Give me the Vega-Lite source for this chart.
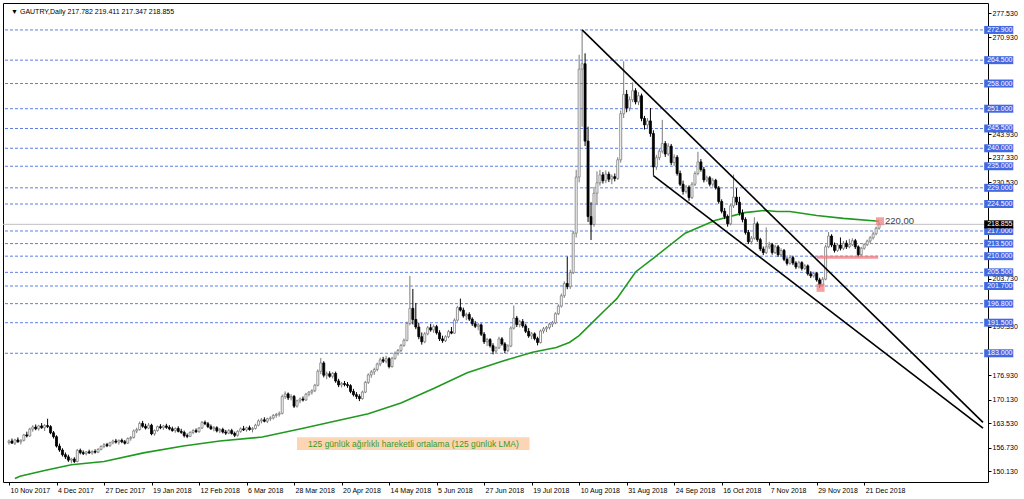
{
"$schema": "https://vega.github.io/schema/vega-lite/v6.json",
"width": 985, "height": 479,
"autosize": {"type": "none"},
"padding": {"left": 3, "top": 3, "right": 36, "bottom": 17},
"background": "#ffffff",
"config": {"view": {"stroke": "#000000", "strokeWidth": 1}, "font": "Liberation Sans"},
"datasets": {
"levels": [{"p":272.9},{"p":264.5},{"p":258.0},{"p":251.0},{"p":245.5},{"p":240.0},{"p":235.0},{"p":229.0},{"p":224.5},{"p":217.0},{"p":213.5},{"p":210.0},{"p":205.5},{"p":201.7},{"p":196.8},{"p":191.5},{"p":183.0}],
"current": [{"p":218.855}],
"trend": [{"id":"u","i":193,"p":272.9},{"id":"u","i":328,"p":163.8},{"id":"l","i":217,"p":232.4},{"id":"l","i":328,"p":162.2}],
"lma": [{"i":2,"v":148.2},{"i":3.7,"v":148.8},{"i":12,"v":150.4},{"i":21,"v":152.0},{"i":32,"v":152.9},{"i":45.3,"v":155.3},{"i":58.7,"v":157.2},{"i":71,"v":158.6},{"i":85.3,"v":159.7},{"i":98.7,"v":162.1},{"i":121,"v":166.2},{"i":132,"v":169.2},{"i":143,"v":173.2},{"i":154.3,"v":177.6},{"i":165.3,"v":180.6},{"i":176.3,"v":183.3},{"i":184.3,"v":184.6},{"i":188.7,"v":186.0},{"i":192,"v":187.9},{"i":197,"v":192.0},{"i":200.3,"v":194.7},{"i":204.7,"v":198.2},{"i":211,"v":205.6},{"i":217.7,"v":209.9},{"i":227.7,"v":216.4},{"i":237.7,"v":219.9},{"i":247.7,"v":222.1},{"i":254.3,"v":222.7},{"i":258.7,"v":222.4},{"i":263,"v":222.4},{"i":272,"v":221.3},{"i":281,"v":220.5},{"i":293,"v":219.7}],
"pinkline": [{"i":272,"p":209.7},{"i":292.7,"p":209.7}],
"pinkbox": [{"i":273.3,"p":201.2},{"i":293.3,"p":219.7}],
"note": [{"i1":97,"i2":175.3,"p1":156.1,"p2":159.65,"t":"125 günlük ağırlıklı hareketli ortalama (125 günlük LMA)"}],
"candles": [
{"i":0,"o":158.2,"h":159.0,"l":157.6,"c":158.6},
{"i":1,"o":158.6,"h":159.3,"l":157.9,"c":158.0},
{"i":2,"o":158.0,"h":159.2,"l":157.5,"c":158.9},
{"i":3,"o":158.9,"h":159.6,"l":158.1,"c":158.4},
{"i":4,"o":158.4,"h":159.1,"l":157.7,"c":158.8},
{"i":5,"o":158.8,"h":160.6,"l":158.5,"c":160.3},
{"i":6,"o":160.3,"h":161.2,"l":159.6,"c":160.0},
{"i":7,"o":160.0,"h":162.3,"l":159.8,"c":161.9},
{"i":8,"o":161.9,"h":163.0,"l":161.2,"c":162.5},
{"i":9,"o":162.5,"h":163.2,"l":161.6,"c":162.0},
{"i":10,"o":162.0,"h":163.1,"l":161.5,"c":162.8},
{"i":11,"o":162.8,"h":163.6,"l":162.0,"c":162.3},
{"i":12,"o":162.3,"h":163.3,"l":161.4,"c":162.9},
{"i":13,"o":162.9,"h":164.8,"l":162.2,"c":162.6},
{"i":14,"o":162.6,"h":163.0,"l":160.5,"c":160.9},
{"i":15,"o":160.9,"h":161.4,"l":159.3,"c":159.8},
{"i":16,"o":159.8,"h":160.2,"l":156.8,"c":157.2},
{"i":17,"o":157.2,"h":157.9,"l":155.6,"c":156.1},
{"i":18,"o":156.1,"h":156.6,"l":154.3,"c":154.8},
{"i":19,"o":154.8,"h":155.4,"l":153.6,"c":154.2},
{"i":20,"o":154.2,"h":154.8,"l":152.8,"c":153.3},
{"i":21,"o":153.3,"h":153.9,"l":152.4,"c":153.6},
{"i":22,"o":153.6,"h":154.1,"l":152.5,"c":152.9},
{"i":23,"o":152.9,"h":156.4,"l":152.7,"c":156.0},
{"i":24,"o":156.0,"h":156.5,"l":154.9,"c":155.4},
{"i":25,"o":155.4,"h":156.0,"l":154.7,"c":155.1},
{"i":26,"o":155.1,"h":155.8,"l":154.6,"c":155.6},
{"i":27,"o":155.6,"h":156.2,"l":155.0,"c":155.3},
{"i":28,"o":155.3,"h":156.0,"l":154.8,"c":155.7},
{"i":29,"o":155.7,"h":156.3,"l":155.1,"c":155.5},
{"i":30,"o":155.5,"h":156.6,"l":155.2,"c":156.3},
{"i":31,"o":156.3,"h":157.4,"l":156.0,"c":157.1},
{"i":32,"o":157.1,"h":158.0,"l":156.6,"c":157.6},
{"i":33,"o":157.6,"h":158.1,"l":156.9,"c":157.3},
{"i":34,"o":157.3,"h":158.4,"l":157.0,"c":158.1},
{"i":35,"o":158.1,"h":159.0,"l":157.7,"c":158.6},
{"i":36,"o":158.6,"h":159.2,"l":157.9,"c":158.3},
{"i":37,"o":158.3,"h":159.0,"l":157.6,"c":158.8},
{"i":38,"o":158.8,"h":159.3,"l":158.0,"c":158.4},
{"i":39,"o":158.4,"h":158.9,"l":157.6,"c":158.0},
{"i":40,"o":158.0,"h":159.6,"l":157.8,"c":159.3},
{"i":41,"o":159.3,"h":160.0,"l":158.7,"c":159.6},
{"i":42,"o":159.6,"h":161.8,"l":159.3,"c":161.4},
{"i":43,"o":161.4,"h":162.3,"l":160.8,"c":161.8},
{"i":44,"o":161.8,"h":164.0,"l":161.5,"c":163.5},
{"i":45,"o":163.5,"h":164.2,"l":162.3,"c":162.7},
{"i":46,"o":162.7,"h":163.4,"l":161.8,"c":162.2},
{"i":47,"o":162.2,"h":163.6,"l":161.9,"c":163.0},
{"i":48,"o":163.0,"h":163.4,"l":160.2,"c":160.6},
{"i":49,"o":160.6,"h":161.8,"l":160.1,"c":161.5},
{"i":50,"o":161.5,"h":162.9,"l":161.2,"c":162.6},
{"i":51,"o":162.6,"h":163.3,"l":161.9,"c":162.3},
{"i":52,"o":162.3,"h":163.1,"l":161.7,"c":162.8},
{"i":53,"o":162.8,"h":163.4,"l":162.0,"c":162.4},
{"i":54,"o":162.4,"h":163.0,"l":161.6,"c":162.0},
{"i":55,"o":162.0,"h":162.6,"l":161.2,"c":161.5},
{"i":56,"o":161.5,"h":162.4,"l":160.9,"c":162.1},
{"i":57,"o":162.1,"h":162.7,"l":161.0,"c":161.3},
{"i":58,"o":161.3,"h":162.0,"l":160.6,"c":161.0},
{"i":59,"o":161.0,"h":161.5,"l":159.6,"c":160.1},
{"i":60,"o":160.1,"h":160.7,"l":159.4,"c":159.9},
{"i":61,"o":159.9,"h":161.3,"l":159.7,"c":161.0},
{"i":62,"o":161.0,"h":161.9,"l":160.5,"c":161.5},
{"i":63,"o":161.5,"h":162.1,"l":160.8,"c":161.2},
{"i":64,"o":161.2,"h":162.5,"l":160.9,"c":162.2},
{"i":65,"o":162.2,"h":164.2,"l":162.0,"c":163.8},
{"i":66,"o":163.8,"h":164.3,"l":163.0,"c":163.4},
{"i":67,"o":163.4,"h":163.9,"l":162.2,"c":162.6},
{"i":68,"o":162.6,"h":163.2,"l":161.7,"c":162.0},
{"i":69,"o":162.0,"h":162.8,"l":161.3,"c":162.3},
{"i":70,"o":162.3,"h":162.7,"l":161.0,"c":161.4},
{"i":71,"o":161.4,"h":162.2,"l":160.8,"c":161.8},
{"i":72,"o":161.8,"h":162.3,"l":160.7,"c":161.1},
{"i":73,"o":161.1,"h":161.7,"l":160.3,"c":160.8},
{"i":74,"o":160.8,"h":161.9,"l":160.5,"c":161.5},
{"i":75,"o":161.5,"h":162.0,"l":160.4,"c":160.7},
{"i":76,"o":160.7,"h":161.2,"l":159.7,"c":160.2},
{"i":77,"o":160.2,"h":161.6,"l":159.8,"c":161.3},
{"i":78,"o":161.3,"h":162.4,"l":160.9,"c":162.0},
{"i":79,"o":162.0,"h":162.8,"l":161.4,"c":161.7},
{"i":80,"o":161.7,"h":162.6,"l":161.2,"c":162.3},
{"i":81,"o":162.3,"h":162.9,"l":161.5,"c":161.8},
{"i":82,"o":161.8,"h":162.5,"l":161.0,"c":162.1},
{"i":83,"o":162.1,"h":163.4,"l":161.8,"c":163.0},
{"i":84,"o":163.0,"h":164.6,"l":162.7,"c":164.2},
{"i":85,"o":164.2,"h":165.0,"l":163.5,"c":164.5},
{"i":86,"o":164.5,"h":165.2,"l":163.8,"c":164.1},
{"i":87,"o":164.1,"h":165.1,"l":163.6,"c":164.8},
{"i":88,"o":164.8,"h":165.5,"l":164.2,"c":165.0},
{"i":89,"o":165.0,"h":166.1,"l":164.6,"c":165.7},
{"i":90,"o":165.7,"h":166.4,"l":165.1,"c":166.0},
{"i":91,"o":166.0,"h":166.8,"l":165.4,"c":166.3},
{"i":92,"o":166.3,"h":171.5,"l":166.0,"c":171.0},
{"i":93,"o":171.0,"h":172.4,"l":170.3,"c":171.7},
{"i":94,"o":171.7,"h":172.1,"l":170.0,"c":170.6},
{"i":95,"o":170.6,"h":171.6,"l":169.9,"c":171.0},
{"i":96,"o":171.0,"h":171.4,"l":167.8,"c":168.3},
{"i":97,"o":168.3,"h":170.1,"l":167.9,"c":169.8},
{"i":98,"o":169.8,"h":170.7,"l":169.1,"c":170.3},
{"i":99,"o":170.3,"h":171.0,"l":169.6,"c":170.0},
{"i":100,"o":170.0,"h":172.0,"l":169.8,"c":171.6},
{"i":101,"o":171.6,"h":172.5,"l":171.0,"c":172.2},
{"i":102,"o":172.2,"h":173.0,"l":171.5,"c":172.6},
{"i":103,"o":172.6,"h":174.5,"l":172.2,"c":174.1},
{"i":104,"o":174.1,"h":178.5,"l":173.8,"c":178.0},
{"i":105,"o":178.0,"h":181.7,"l":177.2,"c":180.3},
{"i":106,"o":180.3,"h":180.8,"l":176.3,"c":176.9},
{"i":107,"o":176.9,"h":177.9,"l":175.8,"c":177.3},
{"i":108,"o":177.3,"h":178.0,"l":176.2,"c":176.6},
{"i":109,"o":176.6,"h":177.8,"l":176.0,"c":177.4},
{"i":110,"o":177.4,"h":177.9,"l":174.8,"c":175.3},
{"i":111,"o":175.3,"h":175.9,"l":173.6,"c":174.2},
{"i":112,"o":174.2,"h":175.0,"l":173.5,"c":174.6},
{"i":113,"o":174.6,"h":175.3,"l":173.8,"c":174.3},
{"i":114,"o":174.3,"h":175.0,"l":173.4,"c":174.0},
{"i":115,"o":174.0,"h":174.4,"l":171.9,"c":172.4},
{"i":116,"o":172.4,"h":173.1,"l":171.0,"c":171.5},
{"i":117,"o":171.5,"h":172.2,"l":170.3,"c":171.0},
{"i":118,"o":171.0,"h":171.6,"l":169.7,"c":170.4},
{"i":119,"o":170.4,"h":172.6,"l":170.1,"c":172.2},
{"i":120,"o":172.2,"h":175.3,"l":171.9,"c":174.9},
{"i":121,"o":174.9,"h":177.4,"l":174.5,"c":177.0},
{"i":122,"o":177.0,"h":178.3,"l":176.2,"c":177.8},
{"i":123,"o":177.8,"h":179.0,"l":177.0,"c":178.5},
{"i":124,"o":178.5,"h":180.4,"l":178.0,"c":180.0},
{"i":125,"o":180.0,"h":181.8,"l":179.4,"c":181.2},
{"i":126,"o":181.2,"h":182.0,"l":180.3,"c":180.8},
{"i":127,"o":180.8,"h":182.3,"l":180.2,"c":181.5},
{"i":128,"o":181.5,"h":181.9,"l":178.8,"c":179.3},
{"i":129,"o":179.3,"h":182.0,"l":179.0,"c":181.6},
{"i":130,"o":181.6,"h":183.5,"l":181.2,"c":183.0},
{"i":131,"o":183.0,"h":184.2,"l":182.4,"c":183.8},
{"i":132,"o":183.8,"h":185.6,"l":183.3,"c":185.2},
{"i":133,"o":185.2,"h":187.1,"l":184.8,"c":186.6},
{"i":134,"o":186.6,"h":191.8,"l":186.3,"c":191.3},
{"i":135,"o":191.3,"h":204.5,"l":190.8,"c":195.5},
{"i":136,"o":195.5,"h":200.9,"l":191.0,"c":192.4},
{"i":137,"o":192.4,"h":197.0,"l":189.7,"c":190.3},
{"i":138,"o":190.3,"h":191.5,"l":186.9,"c":187.6},
{"i":139,"o":187.6,"h":188.8,"l":185.4,"c":186.2},
{"i":140,"o":186.2,"h":188.9,"l":185.8,"c":188.4},
{"i":141,"o":188.4,"h":190.6,"l":188.0,"c":190.1},
{"i":142,"o":190.1,"h":191.2,"l":189.0,"c":189.5},
{"i":143,"o":189.5,"h":191.0,"l":188.7,"c":190.4},
{"i":144,"o":190.4,"h":190.9,"l":188.2,"c":188.7},
{"i":145,"o":188.7,"h":189.4,"l":186.4,"c":187.0},
{"i":146,"o":187.0,"h":187.9,"l":185.9,"c":186.5},
{"i":147,"o":186.5,"h":188.0,"l":186.1,"c":187.6},
{"i":148,"o":187.6,"h":189.5,"l":187.2,"c":189.0},
{"i":149,"o":189.0,"h":190.3,"l":188.3,"c":188.6},
{"i":150,"o":188.6,"h":192.7,"l":188.4,"c":192.2},
{"i":151,"o":192.2,"h":196.2,"l":191.8,"c":195.7},
{"i":152,"o":195.7,"h":198.2,"l":194.6,"c":195.0},
{"i":153,"o":195.0,"h":195.7,"l":192.9,"c":193.4},
{"i":154,"o":193.4,"h":194.3,"l":192.2,"c":193.8},
{"i":155,"o":193.8,"h":194.4,"l":192.0,"c":192.5},
{"i":156,"o":192.5,"h":193.0,"l":190.6,"c":191.2},
{"i":157,"o":191.2,"h":192.0,"l":190.0,"c":190.5},
{"i":158,"o":190.5,"h":191.4,"l":189.4,"c":190.9},
{"i":159,"o":190.9,"h":191.3,"l":187.8,"c":188.3},
{"i":160,"o":188.3,"h":188.9,"l":185.6,"c":186.2},
{"i":161,"o":186.2,"h":187.3,"l":185.0,"c":186.8},
{"i":162,"o":186.8,"h":187.2,"l":184.6,"c":185.1},
{"i":163,"o":185.1,"h":185.8,"l":182.7,"c":183.6},
{"i":164,"o":183.6,"h":184.9,"l":183.1,"c":184.5},
{"i":165,"o":184.5,"h":187.6,"l":184.2,"c":187.0},
{"i":166,"o":187.0,"h":187.5,"l":185.1,"c":185.6},
{"i":167,"o":185.6,"h":186.1,"l":183.0,"c":183.8},
{"i":168,"o":183.8,"h":185.5,"l":183.3,"c":185.0},
{"i":169,"o":185.0,"h":190.5,"l":184.7,"c":190.0},
{"i":170,"o":190.0,"h":196.3,"l":189.6,"c":192.8},
{"i":171,"o":192.8,"h":193.4,"l":190.3,"c":191.0},
{"i":172,"o":191.0,"h":192.3,"l":190.2,"c":191.8},
{"i":173,"o":191.8,"h":192.5,"l":190.1,"c":190.6},
{"i":174,"o":190.6,"h":191.2,"l":188.6,"c":189.1},
{"i":175,"o":189.1,"h":190.0,"l":187.3,"c":187.8},
{"i":176,"o":187.8,"h":188.9,"l":186.9,"c":188.4},
{"i":177,"o":188.4,"h":188.8,"l":186.6,"c":187.1},
{"i":178,"o":187.1,"h":187.6,"l":185.2,"c":186.0},
{"i":179,"o":186.0,"h":189.6,"l":185.7,"c":189.2},
{"i":180,"o":189.2,"h":190.3,"l":188.5,"c":189.8},
{"i":181,"o":189.8,"h":190.6,"l":188.9,"c":190.2},
{"i":182,"o":190.2,"h":191.5,"l":189.6,"c":191.1},
{"i":183,"o":191.1,"h":192.0,"l":190.3,"c":191.5},
{"i":184,"o":191.5,"h":194.4,"l":191.1,"c":194.0},
{"i":185,"o":194.0,"h":196.6,"l":193.6,"c":196.1},
{"i":186,"o":196.1,"h":199.6,"l":195.7,"c":199.0},
{"i":187,"o":199.0,"h":203.0,"l":198.4,"c":202.4},
{"i":188,"o":202.4,"h":209.9,"l":200.8,"c":201.5},
{"i":189,"o":201.5,"h":206.2,"l":200.9,"c":205.4},
{"i":190,"o":205.4,"h":217.0,"l":205.0,"c":216.4},
{"i":191,"o":216.4,"h":234.0,"l":215.2,"c":232.0},
{"i":192,"o":232.0,"h":266.0,"l":230.5,"c":262.0},
{"i":193,"o":262.0,"h":272.9,"l":246.0,"c":263.5},
{"i":194,"o":263.5,"h":266.4,"l":240.6,"c":242.0},
{"i":195,"o":242.0,"h":246.0,"l":219.5,"c":221.0},
{"i":196,"o":221.0,"h":225.0,"l":214.5,"c":218.8},
{"i":197,"o":218.8,"h":229.3,"l":218.2,"c":227.5},
{"i":198,"o":227.5,"h":233.6,"l":224.2,"c":230.4},
{"i":199,"o":230.4,"h":234.0,"l":229.6,"c":232.6},
{"i":200,"o":232.6,"h":233.4,"l":230.2,"c":231.0},
{"i":201,"o":231.0,"h":233.8,"l":230.3,"c":232.8},
{"i":202,"o":232.8,"h":233.5,"l":230.6,"c":231.4},
{"i":203,"o":231.4,"h":232.7,"l":230.0,"c":232.1},
{"i":204,"o":232.1,"h":233.0,"l":230.8,"c":231.6},
{"i":205,"o":231.6,"h":237.5,"l":231.2,"c":236.8},
{"i":206,"o":236.8,"h":250.5,"l":236.0,"c":249.6},
{"i":207,"o":249.6,"h":264.2,"l":248.4,"c":255.0},
{"i":208,"o":255.0,"h":256.2,"l":250.0,"c":251.2},
{"i":209,"o":251.2,"h":254.4,"l":250.3,"c":253.5},
{"i":210,"o":253.5,"h":258.3,"l":252.8,"c":256.0},
{"i":211,"o":256.0,"h":256.7,"l":252.2,"c":252.9},
{"i":212,"o":252.9,"h":255.6,"l":252.0,"c":254.6},
{"i":213,"o":254.6,"h":255.2,"l":247.5,"c":248.3},
{"i":214,"o":248.3,"h":249.0,"l":245.2,"c":246.5},
{"i":215,"o":246.5,"h":248.4,"l":245.6,"c":247.6},
{"i":216,"o":247.6,"h":251.2,"l":243.2,"c":244.1},
{"i":217,"o":244.1,"h":245.0,"l":232.4,"c":234.8},
{"i":218,"o":234.8,"h":238.2,"l":234.0,"c":237.4},
{"i":219,"o":237.4,"h":240.0,"l":236.7,"c":239.2},
{"i":220,"o":239.2,"h":247.9,"l":238.6,"c":241.3},
{"i":221,"o":241.3,"h":242.0,"l":237.6,"c":238.4},
{"i":222,"o":238.4,"h":241.4,"l":237.9,"c":240.6},
{"i":223,"o":240.6,"h":241.2,"l":235.3,"c":236.0},
{"i":224,"o":236.0,"h":238.3,"l":235.1,"c":237.5},
{"i":225,"o":237.5,"h":238.1,"l":232.4,"c":233.0},
{"i":226,"o":233.0,"h":233.8,"l":229.5,"c":230.0},
{"i":227,"o":230.0,"h":231.0,"l":227.1,"c":228.0},
{"i":228,"o":228.0,"h":229.8,"l":227.4,"c":229.2},
{"i":229,"o":229.2,"h":229.7,"l":225.4,"c":226.3},
{"i":230,"o":226.3,"h":230.6,"l":225.9,"c":230.0},
{"i":231,"o":230.0,"h":233.6,"l":229.5,"c":233.0},
{"i":232,"o":233.0,"h":239.0,"l":232.5,"c":236.2},
{"i":233,"o":236.2,"h":237.0,"l":233.5,"c":234.1},
{"i":234,"o":234.1,"h":234.8,"l":230.5,"c":231.2},
{"i":235,"o":231.2,"h":232.4,"l":230.6,"c":231.8},
{"i":236,"o":231.8,"h":232.3,"l":229.4,"c":230.0},
{"i":237,"o":230.0,"h":231.7,"l":229.3,"c":231.1},
{"i":238,"o":231.1,"h":231.5,"l":228.5,"c":229.0},
{"i":239,"o":229.0,"h":229.5,"l":224.6,"c":225.2},
{"i":240,"o":225.2,"h":225.8,"l":221.9,"c":222.5},
{"i":241,"o":222.5,"h":223.4,"l":220.3,"c":221.0},
{"i":242,"o":221.0,"h":221.6,"l":218.2,"c":219.0},
{"i":243,"o":219.0,"h":224.5,"l":218.6,"c":224.0},
{"i":244,"o":224.0,"h":232.7,"l":223.4,"c":226.4},
{"i":245,"o":226.4,"h":228.9,"l":224.2,"c":225.0},
{"i":246,"o":225.0,"h":226.5,"l":221.3,"c":222.0},
{"i":247,"o":222.0,"h":223.0,"l":219.4,"c":220.2},
{"i":248,"o":220.2,"h":220.8,"l":216.0,"c":216.6},
{"i":249,"o":216.6,"h":217.3,"l":213.4,"c":214.0},
{"i":250,"o":214.0,"h":215.6,"l":213.3,"c":215.0},
{"i":251,"o":215.0,"h":220.8,"l":214.6,"c":219.0},
{"i":252,"o":219.0,"h":219.6,"l":214.0,"c":214.6},
{"i":253,"o":214.6,"h":215.1,"l":211.4,"c":212.0},
{"i":254,"o":212.0,"h":212.7,"l":210.3,"c":211.0},
{"i":255,"o":211.0,"h":218.0,"l":210.6,"c":212.6},
{"i":256,"o":212.6,"h":214.0,"l":212.0,"c":213.2},
{"i":257,"o":213.2,"h":213.7,"l":210.4,"c":211.0},
{"i":258,"o":211.0,"h":213.2,"l":210.6,"c":212.6},
{"i":259,"o":212.6,"h":213.1,"l":209.8,"c":210.4},
{"i":260,"o":210.4,"h":212.2,"l":209.9,"c":211.6},
{"i":261,"o":211.6,"h":212.0,"l":208.6,"c":209.1},
{"i":262,"o":209.1,"h":209.7,"l":207.4,"c":208.0},
{"i":263,"o":208.0,"h":210.3,"l":207.6,"c":209.6},
{"i":264,"o":209.6,"h":210.1,"l":207.5,"c":208.1},
{"i":265,"o":208.1,"h":208.6,"l":206.4,"c":207.0},
{"i":266,"o":207.0,"h":208.7,"l":206.6,"c":208.2},
{"i":267,"o":208.2,"h":208.6,"l":206.0,"c":206.6},
{"i":268,"o":206.6,"h":207.8,"l":206.2,"c":207.3},
{"i":269,"o":207.3,"h":207.7,"l":204.6,"c":205.1},
{"i":270,"o":205.1,"h":205.8,"l":203.9,"c":204.5},
{"i":271,"o":204.5,"h":205.7,"l":204.0,"c":205.2},
{"i":272,"o":205.2,"h":205.6,"l":202.9,"c":203.4},
{"i":273,"o":203.4,"h":204.0,"l":201.2,"c":202.0},
{"i":274,"o":202.0,"h":204.2,"l":201.6,"c":203.6},
{"i":275,"o":203.6,"h":213.2,"l":203.3,"c":212.6},
{"i":276,"o":212.6,"h":216.7,"l":212.2,"c":215.6},
{"i":277,"o":215.6,"h":216.1,"l":212.5,"c":213.1},
{"i":278,"o":213.1,"h":213.8,"l":211.0,"c":211.6},
{"i":279,"o":211.6,"h":213.6,"l":211.2,"c":213.1},
{"i":280,"o":213.1,"h":215.2,"l":211.6,"c":212.2},
{"i":281,"o":212.2,"h":214.2,"l":211.7,"c":213.6},
{"i":282,"o":213.6,"h":214.4,"l":212.0,"c":212.6},
{"i":283,"o":212.6,"h":214.8,"l":212.2,"c":213.2},
{"i":284,"o":213.2,"h":215.0,"l":212.8,"c":214.3},
{"i":285,"o":214.3,"h":214.8,"l":212.0,"c":212.6},
{"i":286,"o":212.6,"h":213.0,"l":209.7,"c":210.4},
{"i":287,"o":210.4,"h":212.6,"l":210.0,"c":212.2},
{"i":288,"o":212.2,"h":213.6,"l":211.8,"c":213.2},
{"i":289,"o":213.2,"h":214.6,"l":212.8,"c":214.2},
{"i":290,"o":214.2,"h":215.6,"l":213.6,"c":215.1},
{"i":291,"o":215.1,"h":216.8,"l":214.6,"c":216.2},
{"i":292,"o":216.2,"h":218.2,"l":215.8,"c":217.8},
{"i":293,"o":217.782,"h":219.411,"l":217.347,"c":218.855}
]
},
"encoding": {
"x": {"type": "quantitative", "scale": {"domain": [-0.3333, 328], "nice": false, "zero": false},
"axis": {"orient": "bottom", "title": null, "grid": false, "domain": false, "values": [0,16,32,48,64,80,96,112,128,144,160,176,192,208,224,240,256,272,288],
"labelExpr": "['10 Nov 2017','4 Dec 2017','27 Dec 2017','19 Jan 2018','12 Feb 2018','6 Mar 2018','28 Mar 2018','20 Apr 2018','14 May 2018','5 Jun 2018','27 Jun 2018','19 Jul 2018','10 Aug 2018','31 Aug 2018','24 Sep 2018','16 Oct 2018','7 Nov 2018','29 Nov 2018','21 Dec 2018'][round(datum.value/16)]",
"labelAlign": "left", "labelBaseline": "top", "labelPadding": 1, "labelOffset": 1, "labelFontSize": 7, "labelColor": "#000000", "labelFont": "Liberation Sans", "tickColor": "#000000", "tickSize": 3, "labelOverlap": false, "labelFlush": false}},
"y": {"type": "quantitative", "scale": {"domain": [148.6, 279.0], "nice": false, "zero": false},
"axis": {"orient": "right", "title": null, "grid": false, "domain": false, "values": [150.13,156.73,163.53,170.13,176.93,190.33,203.73,230.53,237.33,243.93,270.93,277.53], "format": ".3f",
"labelAlign": "left", "labelBaseline": "middle", "labelPadding": 1, "labelFontSize": 7, "labelColor": "#000000", "labelFont": "Liberation Sans", "tickColor": "#000000", "tickSize": 3, "labelOverlap": false, "labelFlush": false}}
},
"layer": [
{"data": {"name": "levels"}, "mark": {"type": "rule", "color": "#4169e1", "strokeDash": [3, 2], "strokeWidth": 1, "opacity": 0.85},
 "encoding": {"y": {"field": "p", "type": "quantitative"}}},
{"data": {"name": "current"}, "mark": {"type": "rule", "color": "#c0c0c0", "strokeWidth": 1},
 "encoding": {"y": {"field": "p", "type": "quantitative"}}},
{"data": {"name": "note"}, "mark": {"type": "rect", "color": "#fcd5b4"},
 "encoding": {"x": {"field": "i1", "type": "quantitative"}, "x2": {"field": "i2"}, "y": {"field": "p1", "type": "quantitative"}, "y2": {"field": "p2"}}},
{"data": {"name": "note"}, "mark": {"type": "text", "color": "#3a9a23", "fontSize": 8.5, "font": "Liberation Sans", "align": "center", "baseline": "middle"},
 "encoding": {"x": {"datum": 136.2, "type": "quantitative"}, "y": {"datum": 157.9, "type": "quantitative"}, "text": {"field": "t"}}},
{"data": {"name": "lma"}, "mark": {"type": "line", "color": "#1f9a1f", "strokeWidth": 1.6, "clip": true},
 "encoding": {"x": {"field": "i", "type": "quantitative"}, "y": {"field": "v", "type": "quantitative"}}},
{"data": {"name": "candles"}, "mark": {"type": "rule", "strokeWidth": 1, "clip": true},
 "encoding": {"x": {"field": "i", "type": "quantitative"}, "y": {"field": "l", "type": "quantitative"}, "y2": {"field": "h"},
  "color": {"condition": {"test": "datum.c < datum.o", "value": "#000000"}, "value": "#7a7a7a"}}},
{"data": {"name": "candles"}, "mark": {"type": "bar", "size": 2, "strokeWidth": 0.8, "clip": true},
 "encoding": {"x": {"field": "i", "type": "quantitative"}, "y": {"field": "o", "type": "quantitative"}, "y2": {"field": "c"},
  "fill": {"condition": {"test": "datum.c < datum.o", "value": "#000000"}, "value": "#ffffff"},
  "stroke": {"condition": {"test": "datum.c < datum.o", "value": "#000000"}, "value": "#7a7a7a"}}},
{"data": {"name": "trend"}, "mark": {"type": "line", "color": "#000000", "strokeWidth": 1.6, "clip": true},
 "encoding": {"x": {"field": "i", "type": "quantitative"}, "y": {"field": "p", "type": "quantitative"}, "detail": {"field": "id"}}},
{"data": {"name": "pinkline"}, "mark": {"type": "line", "color": "#f08080", "strokeWidth": 3, "opacity": 0.8},
 "encoding": {"x": {"field": "i", "type": "quantitative"}, "y": {"field": "p", "type": "quantitative"}}},
{"data": {"name": "pinkbox"}, "mark": {"type": "point", "shape": "square", "filled": true, "size": 64, "color": "#f08080", "opacity": 0.75},
 "encoding": {"x": {"field": "i", "type": "quantitative"}, "y": {"field": "p", "type": "quantitative"}}},
{"data": {"values": [{"t": "220,00"}]}, "mark": {"type": "text", "color": "#404040", "fontSize": 9.5, "font": "Liberation Sans", "align": "left", "baseline": "middle"},
 "encoding": {"x": {"datum": 295, "type": "quantitative"}, "y": {"datum": 219.7, "type": "quantitative"}, "text": {"field": "t"}}},
{"data": {"values": [{"t": "▼ GAUTRY,Daily  217.782 219.411 217.347 218.855"}]}, "mark": {"type": "text", "color": "#000000", "fontSize": 7, "font": "Liberation Sans", "align": "left", "baseline": "middle"},
 "encoding": {"x": {"datum": 0.7, "type": "quantitative"}, "y": {"datum": 277.9, "type": "quantitative"}, "text": {"field": "t"}}},
{"data": {"name": "levels"}, "mark": {"type": "bar", "color": "#4169e1", "size": 8, "orient": "horizontal", "clip": false},
 "encoding": {"x": {"datum": 328.4, "type": "quantitative"}, "x2": {"datum": 338.2}, "y": {"field": "p", "type": "quantitative"}}},
{"data": {"name": "levels"}, "mark": {"type": "text", "color": "#ffffff", "fontSize": 7, "font": "Liberation Sans", "align": "left", "baseline": "middle", "clip": false},
 "encoding": {"x": {"datum": 329.4, "type": "quantitative"}, "y": {"field": "p", "type": "quantitative"}, "text": {"field": "p", "type": "quantitative", "format": ".3f"}}},
{"data": {"name": "current"}, "mark": {"type": "bar", "color": "#000000", "size": 8, "orient": "horizontal", "clip": false},
 "encoding": {"x": {"datum": 328.4, "type": "quantitative"}, "x2": {"datum": 338.2}, "y": {"field": "p", "type": "quantitative"}}},
{"data": {"name": "current"}, "mark": {"type": "text", "color": "#ffffff", "fontSize": 7, "font": "Liberation Sans", "align": "left", "baseline": "middle", "clip": false},
 "encoding": {"x": {"datum": 329.4, "type": "quantitative"}, "y": {"field": "p", "type": "quantitative"}, "text": {"field": "p", "type": "quantitative", "format": ".3f"}}}
]
}
